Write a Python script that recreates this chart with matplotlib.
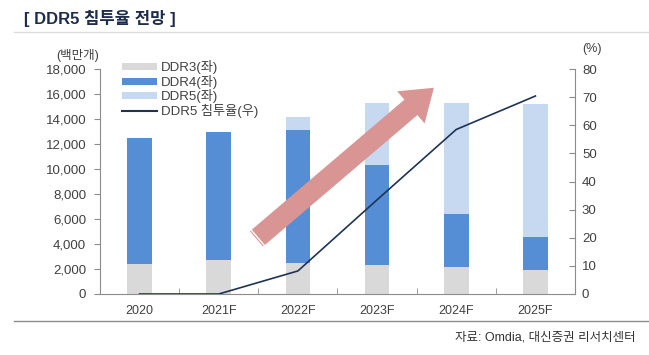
import matplotlib
matplotlib.use("Agg")
import matplotlib.pyplot as plt
import numpy as np
from matplotlib.patches import FancyArrowPatch
from matplotlib.lines import Line2D
from matplotlib.ticker import FuncFormatter, MultipleLocator

plt.rcParams["font.family"] = ["Liberation Sans", "Noto Sans CJK KR", "DejaVu Sans"]

# data (millions of units, %)
years = ["2020", "2021F", "2022F", "2023F", "2024F", "2025F"]
ddr3 = [2400, 2720, 2500, 2320, 2130, 1920]
ddr4 = [10050, 10230, 10620, 8000, 4270, 2640]
ddr5 = [0, 0, 1080, 4930, 8900, 10640]
ddr5_share = [0, 0, 8.2, 33.5, 58.5, 70.4]

C_DDR3 = "#d9d9d9"
C_DDR4 = "#558ed5"
C_DDR5 = "#c6d9f1"
C_LINE = "#1f3356"
C_ARROW = "#d99594"
C_TEXT = "#404040"
C_AXIS = "#8c8c8c"

W, H = 649, 355
fig = plt.figure(figsize=(W / 100, H / 100), dpi=100)
fig.subplots_adjust(left=100 / W, right=575 / W, bottom=1 - 294 / H, top=1 - 69 / H)
ax = fig.add_subplot(111)


def px(x, y):
    # image pixel -> figure fraction
    return x / W, 1 - y / H


x = np.arange(len(years))
bw = 0.31
b3 = ax.bar(x, ddr3, bw, color=C_DDR3, label="DDR3(좌)", zorder=2)
b4 = ax.bar(x, ddr4, bw, bottom=ddr3, color=C_DDR4, label="DDR4(좌)", zorder=2)
b5 = ax.bar(x, ddr5, bw, bottom=np.add(ddr3, ddr4), color=C_DDR5, label="DDR5(좌)", zorder=2)

ax.set_xlim(-0.5, len(years) - 0.5)
ax.set_ylim(0, 18000)
ax.yaxis.set_major_locator(MultipleLocator(2000))
ax.yaxis.set_major_formatter(FuncFormatter(lambda v, p: f"{int(v):,}"))
ax.set_xticks(x)
ax.set_xticklabels(years)
ax.set_xticks(x[:-1] + 0.5, minor=True)
ax.tick_params(axis="x", which="major", length=0, pad=8, labelsize=9, colors=C_TEXT)
ax.tick_params(axis="x", which="minor", length=4, direction="in", color=C_AXIS)
ax.tick_params(axis="y", length=4, direction="out", labelsize=9.5, colors=C_TEXT, color=C_AXIS, pad=6)
for s in ["top", "right"]:
    ax.spines[s].set_visible(False)
for s in ["left", "bottom"]:
    ax.spines[s].set_color(C_AXIS)
    ax.spines[s].set_linewidth(0.8)

ax2 = ax.twinx()
ax2.plot(x, ddr5_share, color=C_LINE, lw=1.2, label="DDR5 침투율(우)", zorder=3)
ax2.set_ylim(0, 80)
ax2.yaxis.set_major_locator(MultipleLocator(10))
ax2.tick_params(axis="y", length=4, direction="in", labelsize=9.5, colors=C_TEXT, color=C_AXIS, pad=5)
for s in ["top", "left", "bottom"]:
    ax2.spines[s].set_visible(False)
ax2.spines["right"].set_color(C_AXIS)
ax2.spines["right"].set_linewidth(0.8)

# units
fig.text(*px(78, 56), "(백만개)", ha="center", va="center", fontsize=9, color=C_TEXT)
fig.text(*px(592, 49), "(%)", ha="center", va="center", fontsize=9, color=C_TEXT)

# legend
handles = [b3, b4, b5, Line2D([], [], color=C_LINE, lw=1.5)]
labels = ["DDR3(좌)", "DDR4(좌)", "DDR5(좌)", "DDR5 침투율(우)"]
leg = ax2.legend(handles, labels, loc="upper left", bbox_to_anchor=(0.036, 1.063),
                 frameon=False, fontsize=9.5, handlelength=2.6, handleheight=0.45,
                 labelspacing=0.05, handletextpad=0.3, borderaxespad=0)
for t in leg.get_texts():
    t.set_color(C_TEXT)

# decorative arrow
tail = np.array([254.0, 241.0])
tip = np.array([436.0, 86.0])
arrow = FancyArrowPatch(px(*tail), px(*tip), transform=fig.transFigure,
                        arrowstyle="simple,head_length=1.5,head_width=2.1,tail_width=1.0",
                        mutation_scale=14.5, color=C_ARROW, lw=0, zorder=5)
fig.patches.append(arrow)
u = (tip - tail) / np.linalg.norm(tip - tail)
n = np.array([u[1] * -1, u[0]]) * -1
for k in (2.5, 5.0):
    a = tail + u * k + n * 12
    b = tail + u * k - n * 12
    fig.add_artist(Line2D([px(*a)[0], px(*b)[0]], [px(*a)[1], px(*b)[1]],
                          transform=fig.transFigure, color="white", lw=1.0, zorder=6))

# title, rules, source
fig.text(*px(24, 18), "[ DDR5 침투율 전망 ]", ha="left", va="center", fontsize=12,
         fontweight="bold", color="#1f2d4d")
fig.add_artist(Line2D([14 / W, 1], [1 - 32 / H] * 2, transform=fig.transFigure, color="#dcdcdc", lw=1))
fig.add_artist(Line2D([14 / W, 1], [1 - 321 / H] * 2, transform=fig.transFigure, color="#8c8c8c", lw=1))
fig.text(*px(636, 338), "자료: Omdia, 대신증권 리서치센터", ha="right", va="center", fontsize=9,
         color="#333333")

fig.savefig("out.png", dpi=100)
